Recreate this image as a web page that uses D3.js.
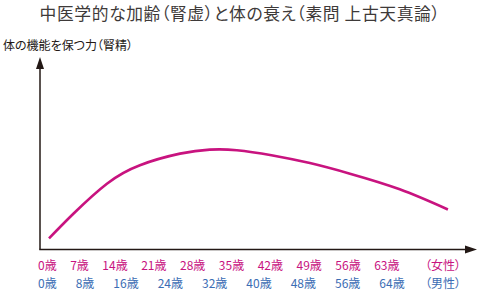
<!DOCTYPE html>
<html><head><meta charset="utf-8">
<script src="https://cdn.jsdelivr.net/npm/d3@7"></script>
<style>
html,body{margin:0;padding:0;background:#fff;}
svg text{font-family:"Noto Sans CJK JP","Noto Sans",sans-serif;font-feature-settings:"palt";}
</style></head>
<body><svg id="c" width="478" height="295"></svg>
<script>
const title = "中医学的な加齢（腎虚）と体の衰え（素問 上古天真論）";
const yLabel = "体の機能を保つ力（腎精）";
const femaleAges = [0, 7, 14, 21, 28, 35, 42, 49, 56, 63];
const maleAges = [0, 8, 16, 24, 32, 40, 48, 56, 64];
const femaleTag = "（女性）";
const maleTag = "（男性）";
const ageUnit = "歳";
// curve (x in female years, y = vital essence, 0-100)
const curveAge = [0, 4.5, 10.7, 16.8, 24.2, 29.7, 34.7, 41.1, 48.2, 55.6, 64.8, 73.7];
const curveValue = [5.8, 18.6, 34.2, 43.8, 49.8, 51.9, 51.6, 49.0, 44.9, 39.4, 31.3, 20.8];

const svg = d3.select("#c");
const axisColor = "#231815", femaleColor = "#c8137f", maleColor = "#3b6db4";
const originX = 40, originY = 249.5;
const x = d3.scaleLinear().domain([0, 63]).range([49, 390]);
const y = d3.scaleLinear().domain([0, 100]).range([originY, 57]);

svg.append("text").attr("x", 240).attr("y", 19.6).attr("text-anchor", "middle")
  .attr("font-size", 16.8).attr("letter-spacing", 0.6).attr("fill", "#3e3a39").text(title);
svg.append("text").attr("x", 3).attr("y", 49.5)
  .attr("font-size", 12).attr("fill", axisColor).text(yLabel);

// axes
svg.append("line").attr("x1", originX).attr("x2", originX).attr("y1", originY).attr("y2", 66)
  .attr("stroke", axisColor).attr("stroke-width", 1.5);
svg.append("line").attr("x1", originX - 0.75).attr("x2", 468).attr("y1", originY).attr("y2", originY)
  .attr("stroke", axisColor).attr("stroke-width", 1.5);
svg.append("path").attr("d", `M${originX},57 L${originX-4},69 L${originX+4},69 Z`).attr("fill", axisColor);
svg.append("path").attr("d", `M477,${originY} L465,${originY-4} L465,${originY+4} Z`).attr("fill", axisColor);

// curve
const pts = curveAge.map((a, i) => [a, curveValue[i]]);
svg.append("path").datum(pts)
  .attr("d", d3.line().x(d => x(d[0])).y(d => y(d[1])).curve(d3.curveNatural))
  .attr("fill", "none").attr("stroke", femaleColor).attr("stroke-width", 2.6).attr("stroke-linecap", "butt");

// labels flowed like a text line
function flowRow(ages, tag, color, yPos, gap) {
  let cx = 38;
  const g = svg.append("g");
  ages.forEach(a => {
    const t = g.append("text").attr("x", cx).attr("y", yPos).attr("font-size", 12)
      .attr("fill", color).text(a + ageUnit);
    cx += t.node().getComputedTextLength() + gap;
  });
  g.append("text").attr("x", 461).attr("y", yPos).attr("text-anchor", "end").attr("font-size", 12)
    .attr("fill", color).text(tag);
}
flowRow(femaleAges, femaleTag, femaleColor, 270, 13.5);
flowRow(maleAges, maleTag, maleColor, 288, 19);
</script></body></html>
